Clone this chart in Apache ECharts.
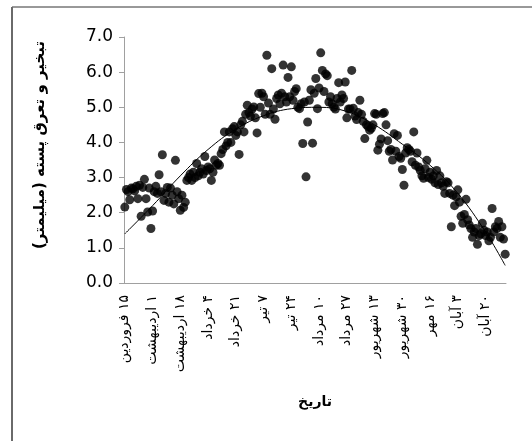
<!DOCTYPE html>
<html>
<head>
<meta charset="utf-8">
<script src="https://cdn.jsdelivr.net/npm/echarts@6/dist/echarts.min.js"></script>
<style>
  html, body { margin: 0; padding: 0; background: #fff; }
  #chart { width: 532px; height: 441px; }
</style>
</head>
<body>
<div id="chart"></div>
<script>
// tick labels, one every 17 days starting at 15 Farvardin
const tickLabels = ['۱۵ فروردین', '۱ اردیبهشت', '۱۸ اردیبهشت', '۴ خرداد', '۲۱ خرداد', '۷ تیر', '۲۴ تیر',
  '۱۰ مرداد', '۲۷ مرداد', '۱۳ شهریور', '۳۰ شهریور', '۱۶ مهر', '۳ آبان', '۲۰ آبان'];
const labelStep = 17;

// daily evapotranspiration (mm)
const etValues = [
  2.16, 2.66, 2.6, 2.37, 2.7, 2.68, 2.62, 2.75, 2.4, 2.78,
  1.9, 2.72, 2.95, 2.4, 2.02, 2.7, 1.55, 2.05, 2.6, 2.75,
  2.55, 3.08, 2.6, 3.65, 2.35, 2.55, 2.72, 2.3, 2.7, 2.5,
  2.25, 3.49, 2.6, 2.4, 2.07, 2.5, 2.15, 2.3, 2.92, 3.0,
  3.1, 2.92, 3.15, 3.0, 3.4, 3.05, 3.15, 3.25, 3.1, 3.6,
  3.2, 3.3, 3.25, 2.92, 3.15, 3.5, 3.35, 3.4, 3.35, 3.68,
  3.8, 4.3, 3.9, 4.0, 4.3, 4.0, 4.39, 4.45, 4.2, 4.3,
  3.66, 4.5, 4.6, 4.3, 4.8, 5.06, 4.85, 4.75, 4.95, 5.01,
  4.7, 4.27, 5.39, 5.0, 5.4, 5.3, 4.8, 6.48, 5.12, 4.8,
  6.1, 4.95, 4.66, 5.25, 5.35, 5.1, 5.4, 6.2, 5.3, 5.15,
  5.85, 5.3, 6.15, 5.2, 5.45, 5.53, 5.0, 4.96, 5.1, 3.97,
  5.15, 3.02, 4.58, 5.2, 5.5, 3.98, 5.4, 5.82, 4.96, 5.55,
  6.55, 6.05, 5.45, 5.95, 5.9, 5.15, 5.3, 5.1, 5.0, 4.95,
  5.25, 5.7, 5.15, 5.35, 5.25, 5.72, 4.7, 4.95, 4.95, 6.05,
  4.97, 4.75, 4.65, 4.85, 5.2, 4.8, 4.6, 4.11, 4.5, 4.45,
  4.35, 4.4, 4.5, 4.82, 4.8, 3.78, 3.95, 4.1, 4.82, 4.85,
  4.5, 4.05, 3.75, 3.8, 3.5, 4.25, 3.75, 4.2, 3.6, 3.55,
  3.23, 2.78, 3.7, 3.85, 3.8, 3.75, 3.45, 4.3, 3.35, 3.7,
  3.3, 3.2, 3.05, 2.98, 3.25, 3.49, 3.0, 3.15, 2.95, 3.05,
  2.85, 3.2, 2.8, 3.05, 2.85, 2.75, 2.55, 2.88, 2.85, 2.55,
  1.6, 2.5, 2.2, 2.45, 2.65, 2.3, 1.9, 1.7, 1.95, 2.38,
  1.8, 1.65, 1.55, 1.3, 1.45, 1.55, 1.1, 1.35, 1.4, 1.7,
  1.5, 1.35, 1.45, 1.2, 1.3, 2.12, 1.45, 1.6, 1.55, 1.75,
  1.3, 1.6, 1.25, 0.82
];

// trend line, read at the labelled days (and the last day)
const trendDays = [0, 17, 34, 51, 68, 85, 102, 119, 136, 153, 170, 187, 204, 221, 233];
const trendValues = [1.4, 2.2, 3.05, 3.8, 4.38, 4.76, 4.96, 5.0, 4.88, 4.5, 3.95, 3.35, 2.55, 1.45, 0.5];

const days = etValues.map((v, i) => String(i));
// right-to-left mark so the day number sits on the right, as in Persian text
const rtl = s => '\u200F' + s;

const chart = echarts.init(document.getElementById('chart'));
chart.setOption({
  animation: false,
  grid: { left: 124, top: 37, right: 26, bottom: 158 },
  graphic: [
    { type: 'line', shape: { x1: 12, y1: 7, x2: 532, y2: 7 }, style: { stroke: '#333', lineWidth: 1 } },
    { type: 'line', shape: { x1: 12, y1: 7, x2: 12, y2: 441 }, style: { stroke: '#6a6a6a', lineWidth: 2 } }
  ],
  xAxis: {
    type: 'category',
    data: days,
    boundaryGap: true,
    name: 'تاریخ',
    nameLocation: 'middle',
    nameGap: 112,
    nameTextStyle: { fontFamily: 'DejaVu Sans', fontSize: 14, fontWeight: 'bold', color: '#000' },
    axisLine: { lineStyle: { color: '#a0a0a0', width: 1 } },
    axisTick: { interval: 0, length: 6, lineStyle: { color: '#a0a0a0' } },
    axisLabel: {
      interval: labelStep - 1,
      rotate: 90,
      margin: 12,
      fontFamily: 'DejaVu Sans',
      fontSize: 14,
      color: '#000',
      formatter: (v, idx) => idx % labelStep === 0 ? rtl(tickLabels[idx / labelStep] || '') : ''
    },
    splitLine: { show: false }
  },
  yAxis: {
    type: 'value',
    min: 0,
    max: 7,
    interval: 1,
    name: '\u202Bتبخیر و تعرق پسته (میلیمتر)\u202C',
    nameLocation: 'middle',
    nameGap: 76,
    nameTextStyle: { fontFamily: 'DejaVu Sans', fontSize: 15, fontWeight: 'bold', color: '#000', padding: [0, 0, 0, 30] },
    axisLine: { show: true, lineStyle: { color: '#a0a0a0', width: 1 } },
    axisTick: { show: true, length: 5, lineStyle: { color: '#a0a0a0' } },
    axisLabel: {
      margin: 11,
      fontFamily: 'DejaVu Sans',
      fontSize: 17,
      color: '#000',
      formatter: v => v.toFixed(1)
    },
    splitLine: { show: false }
  },
  series: [
    {
      type: 'scatter',
      data: etValues,
      symbol: 'circle',
      symbolSize: 9,
      itemStyle: { color: '#000' }
    },
    {
      type: 'line',
      data: trendDays.map((d, k) => [d, trendValues[k]]),
      smooth: 0.4,
      symbol: 'none',
      lineStyle: { color: '#000', width: 1 },
      z: 3
    }
  ]
});
</script>
</body>
</html>
